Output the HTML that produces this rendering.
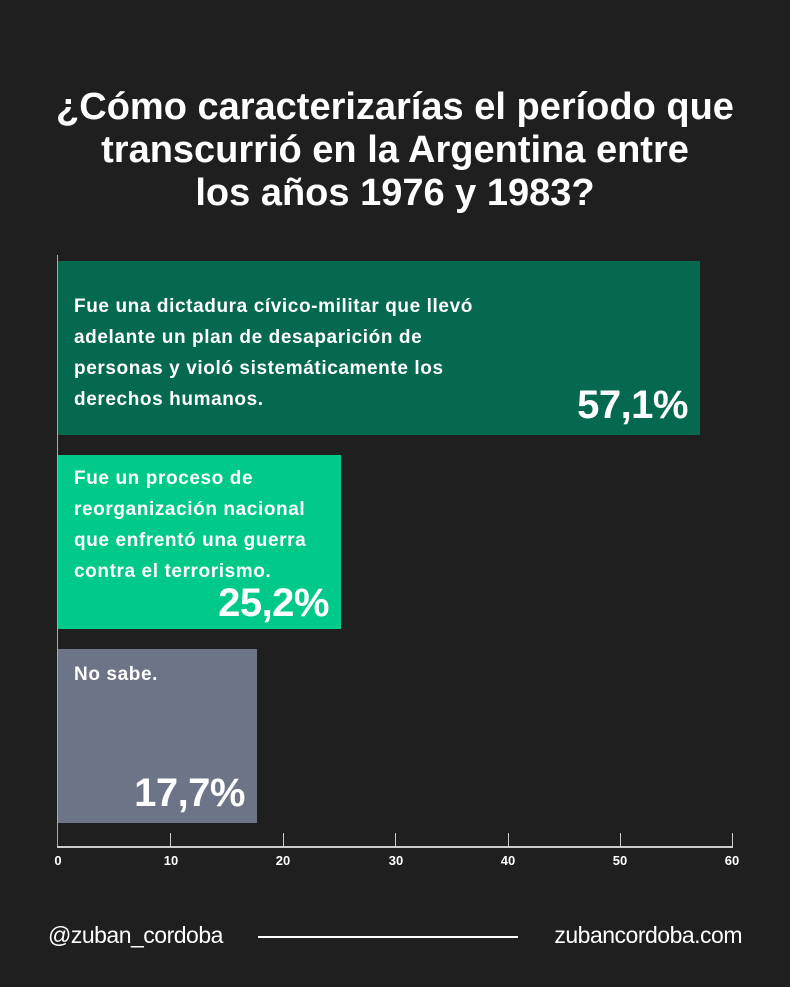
<!DOCTYPE html>
<html><head><meta charset="utf-8"><style>
body{margin:0;background:#1f1f1f;width:790px;height:987px;position:relative;overflow:hidden;font-family:"Liberation Sans",sans-serif;color:#fff}
.t{position:absolute;left:0;width:790px;text-align:center;font-weight:bold;font-size:38px;letter-spacing:0px;line-height:43px}
.bar{position:absolute;left:58px}
.lab{position:absolute;left:16px;top:30px;font-weight:bold;font-size:19px;line-height:31px;letter-spacing:0.6px;white-space:nowrap}
.pct{position:absolute;right:12px;bottom:7px;font-weight:bold;font-size:40px;letter-spacing:-0.5px}
.tk{position:absolute;top:833px;width:1px;height:14px;background:#ccc}
.tl{position:absolute;top:853px;font-size:13px;font-weight:bold;width:30px;margin-left:-15px;text-align:center}
.f{position:absolute;top:922px;font-size:23px;letter-spacing:-0.5px}
</style></head><body>
<div class="t" style="top:86px">¿Cómo caracterizarías el período que</div>
<div class="t" style="top:129px">transcurrió en la Argentina entre</div>
<div class="t" style="top:172px">los años 1976 y 1983?</div>

<div class="bar" style="top:261px;width:642px;height:174px;background:#05694f">
<div class="lab">Fue una dictadura cívico-militar que llevó<br>adelante un plan de desaparición de<br>personas y violó sistemáticamente los<br>derechos humanos.</div>
<div class="pct">57,1%</div></div>
<div class="bar" style="top:455px;width:283px;height:174px;background:#00c98a">
<div class="lab" style="top:8px">Fue un proceso de<br>reorganización nacional<br>que enfrentó una guerra<br>contra el terrorismo.</div>
<div class="pct" style="bottom:3px">25,2%</div></div>
<div class="bar" style="top:649px;width:199px;height:174px;background:#6e7487">
<div class="lab" style="top:10px">No sabe.</div>
<div class="pct">17,7%</div></div>

<div style="position:absolute;left:57px;top:255px;width:1px;height:592px;background:#aaa"></div>
<div style="position:absolute;left:57px;top:846px;width:676px;height:2px;background:#ccc"></div>
<div class="tk" style="left:170px"></div><div class="tk" style="left:283px"></div><div class="tk" style="left:395px"></div><div class="tk" style="left:508px"></div><div class="tk" style="left:620px"></div><div class="tk" style="left:732px"></div>
<div class="tl" style="left:58px">0</div><div class="tl" style="left:171px">10</div><div class="tl" style="left:283px">20</div><div class="tl" style="left:396px">30</div><div class="tl" style="left:508px">40</div><div class="tl" style="left:620px">50</div><div class="tl" style="left:732px">60</div>

<div class="f" style="left:48px">@zuban_cordoba</div>
<div style="position:absolute;left:258px;top:936px;width:260px;height:2px;background:#fff"></div>
<div class="f" style="right:48px">zubancordoba.com</div>
</body></html>
